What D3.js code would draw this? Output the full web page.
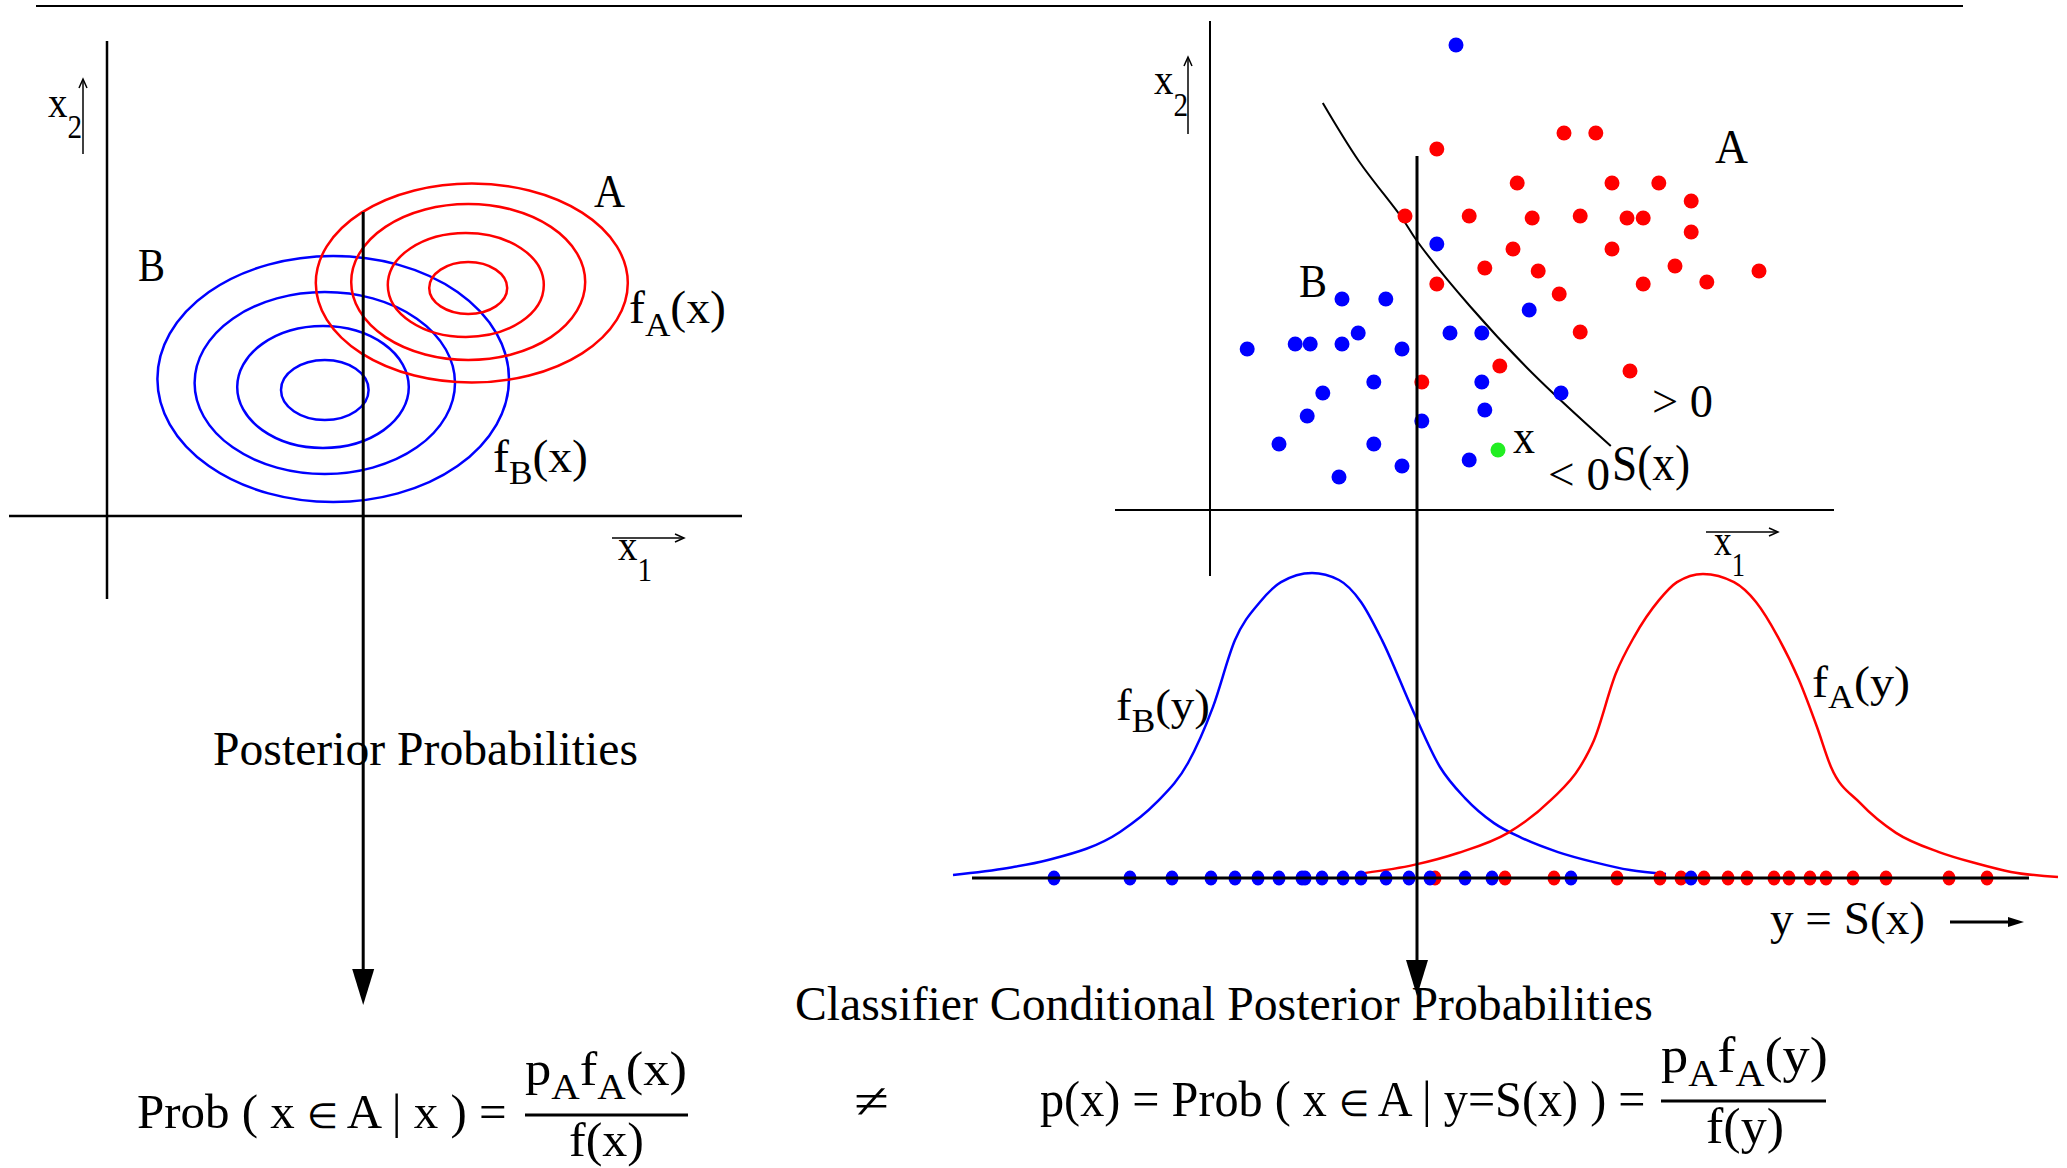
<!DOCTYPE html>
<html>
<head>
<meta charset="utf-8">
<script src="https://cdn.jsdelivr.net/npm/d3@7"></script>
<style>
body { margin: 0; background: #fff; }
svg { display: block; }
text { font-family: "Liberation Serif", "Times New Roman", serif; fill: #000; }
</style>
</head>
<body>
<svg id="fig" width="2067" height="1168"></svg>
<script>
// ---- data ----
// left panel: contour ellipses [cx, cy, rx, ry] in x1/x2 units
var contoursA = [[60.8, 46.6, 26, 19.9], [60.2, 46.8, 19.5, 15.6], [59.8, 46.2, 13, 10.4], [60.2, 45.6, 6.5, 5.2]];
var contoursB = [[37.7, 27.4, 29.3, 24.6], [36.3, 26.6, 21.7, 18.2], [36.0, 25.8, 14.3, 12.2], [36.3, 25.2, 7.3, 6.0]];
var projLeft = [42.7, 60.8];   // x1 of the projection line, top x2

// right panel: samples [x1, x2]
var samplesB = [[41.0, 93.0], [37.8, 53.2], [22.0, 42.2], [29.3, 42.2], [24.7, 35.4], [40.0, 35.4], [45.3, 35.4],
  [6.2, 32.2], [14.2, 33.2], [16.7, 33.2], [22.0, 33.2], [32.0, 32.2], [53.2, 40.0], [27.3, 25.6], [45.3, 25.6],
  [18.8, 23.4], [58.5, 23.4], [16.2, 18.8], [45.8, 20.0], [35.3, 17.8], [11.5, 13.2], [27.3, 13.2], [32.0, 8.8],
  [43.2, 10.0], [21.5, 6.6]];
var samplesA = [[37.8, 72.2], [59.0, 75.4], [64.3, 75.4], [51.2, 65.4], [67.0, 65.4], [74.8, 65.4], [80.2, 61.8],
  [32.5, 58.8], [43.2, 58.8], [53.7, 58.4], [61.7, 58.8], [69.5, 58.4], [72.2, 58.4], [80.2, 55.6], [50.5, 52.2],
  [67.0, 52.2], [45.8, 48.4], [54.7, 47.8], [77.5, 48.8], [91.5, 47.8], [37.8, 45.2], [58.2, 43.2], [72.2, 45.2],
  [82.8, 45.6], [61.7, 35.6], [48.3, 28.8], [70.0, 27.8], [35.3, 25.6]];
var sampleX = [48.0, 12.0];
var boundary = [[18.8, 81.4], [24.8, 69.8], [32.0, 58.4], [34.5, 53.8], [43.3, 40.8], [53.7, 27.4], [66.8, 12.8]];
var projRight = [34.5, 70.8];

// bottom: classifier output y = S(x) and densities
var sB = [-11.1, -10.0, -9.2, -7.76, -7.04, -6.4, -5.9, -5.46, -4.96, -4.54, -3.92, -3.38, -2.94, -2.52, -1.88,
  -1.36, -0.86, -0.28, 0.28, 1.0, 1.72, 2.44, 3.16];
var fB = [0.01, 0.033, 0.059, 0.151, 0.246, 0.377, 0.561, 0.78, 0.905, 0.97, 1.0, 0.977, 0.905, 0.78, 0.541,
  0.364, 0.262, 0.18, 0.131, 0.085, 0.052, 0.026, 0.013];
var sA = [-2.88, -1.88, -1.0, 0, 0.86, 1.44, 1.72, 2.16, 2.52, 3.02, 3.38, 3.9, 4.52, 4.96, 5.4, 5.82, 6.18,
  6.46, 7.04, 7.76, 8.62, 9.34, 10.06, 11.0];
var fA = [0.016, 0.043, 0.082, 0.148, 0.256, 0.364, 0.452, 0.672, 0.79, 0.911, 0.97, 0.997, 0.97, 0.905, 0.79,
  0.649, 0.495, 0.364, 0.246, 0.148, 0.085, 0.049, 0.02, 0.003];
var projB = [-9.08, -7.56, -6.72, -5.94, -5.46, -5.0, -4.58, -4.12, -4.06, -3.72, -3.3, -2.94, -2.44, -1.98,
  -1.56, -0.86, -0.32, 1.26, 3.66];
var projA = [-1.46, -0.06, 0.92, 2.18, 3.04, 3.46, 3.92, 4.4, 4.78, 5.32, 5.62, 6.04, 6.36, 6.9, 7.56, 8.82, 9.58];
var sRange = [-10.72, 10.42];

var RED = "#ff0000", BLUE = "#0000ff", GREEN = "#22ee22";

// ---- scales ----
var xL = d3.scaleLinear().domain([0, 100]).range([107, 707]);
var yL = d3.scaleLinear().domain([0, 100]).range([516, 16]);
var xR = d3.scaleLinear().domain([0, 100]).range([1210, 1810]);
var yR = d3.scaleLinear().domain([0, 100]).range([510, 10]);
var sS = d3.scaleLinear().domain([-11, 11]).range([958, 2058]);
var dS = d3.scaleLinear().domain([0, 1]).range([878, 573]);

var svg = d3.select("#fig");

function seg(x1, y1, x2, y2, w) {
  svg.append("line").attr("x1", x1).attr("y1", y1).attr("x2", x2).attr("y2", y2)
    .attr("stroke", "#000").attr("stroke-width", w);
}
function openHead(x, y, dir) {   // small chevron for axis arrows
  var p = dir === "up" ? [[x - 4, y + 9], [x, y], [x + 4, y + 9]] : [[x - 9, y - 4], [x, y], [x - 9, y + 4]];
  svg.append("path").attr("d", d3.line()(p)).attr("fill", "none").attr("stroke", "#000").attr("stroke-width", 1.5);
}
function solidHead(x, y, w, h, dir) {
  var p = dir === "down" ? [[x - w / 2, y - h], [x, y], [x + w / 2, y - h]] : [[x - h, y - w / 2], [x, y], [x - h, y + w / 2]];
  svg.append("path").attr("d", d3.line()(p) + "Z").attr("fill", "#000");
}

// top rule
seg(36, 6, 1963, 6, 2);

// ---- left panel ----
seg(107, 41, 107, 599, 2.5);
seg(9, 516, 742, 516, 2.5);
seg(83, 154, 83, 80, 1.5); openHead(83, 79, "up");
seg(612, 538, 683, 538, 1.5); openHead(684, 538, "right");

function ellipses(data, color) {
  svg.append("g").selectAll("ellipse").data(data).enter().append("ellipse")
    .attr("cx", function (d) { return xL(d[0]); })
    .attr("cy", function (d) { return yL(d[1]); })
    .attr("rx", function (d) { return xL(d[2]) - xL(0); })
    .attr("ry", function (d) { return yL(0) - yL(d[3]); })
    .attr("fill", "none").attr("stroke", color).attr("stroke-width", 2.5);
}
ellipses(contoursB, BLUE);
ellipses(contoursA, RED);

seg(xL(projLeft[0]), yL(projLeft[1]), xL(projLeft[0]), 975, 3);
solidHead(xL(projLeft[0]), 1005, 22, 36, "down");

// ---- right panel ----
seg(1210, 21, 1210, 576, 2);
seg(1115, 510, 1834, 510, 2);
seg(1188, 134, 1188, 58, 1.5); openHead(1188, 57, "up");
seg(1706, 532, 1777, 532, 1.5); openHead(1778, 532, "right");

svg.append("path").datum(boundary)
  .attr("d", d3.line().x(function (d) { return xR(d[0]); }).y(function (d) { return yR(d[1]); }).curve(d3.curveCatmullRom))
  .attr("fill", "none").attr("stroke", "#000").attr("stroke-width", 2);

function dots(data, color) {
  svg.append("g").selectAll("circle").data(data).enter().append("circle")
    .attr("cx", function (d) { return xR(d[0]); })
    .attr("cy", function (d) { return yR(d[1]); })
    .attr("r", 7.5).attr("fill", color);
}
dots(samplesA, RED);
dots(samplesB, BLUE);
dots([sampleX], GREEN);

// ---- bottom: densities of S(x) ----
function density(s, f, color) {
  svg.append("path").datum(f)
    .attr("d", d3.line().x(function (d, i) { return sS(s[i]); }).y(function (d) { return dS(d); }).curve(d3.curveMonotoneX))
    .attr("fill", "none").attr("stroke", color).attr("stroke-width", 2.5);
}
density(sB, fB, BLUE);
density(sA, fA, RED);

function proj(data, color) {
  svg.append("g").selectAll("ellipse").data(data).enter().append("ellipse")
    .attr("cx", function (d) { return sS(d); }).attr("cy", dS(0))
    .attr("rx", 6.5).attr("ry", 7.5).attr("fill", color);
}
proj(projA, RED);
proj(projB, BLUE);
seg(sS(sRange[0]), dS(0), sS(sRange[1]), dS(0), 3);

seg(xR(projRight[0]), yR(projRight[1]), xR(projRight[0]), 965, 3);
solidHead(xR(projRight[0]), 996, 22, 36, "down");

seg(1950, 922, 2010, 922, 3);
solidHead(2024, 922, 10, 16, "right");

// ---- text ----
// [x, baseline, size, width, parts, subscript drop]; "_" = subscript, "~" = smaller symbol
var labels = [
  [48, 117, 44, 34, ["x", "_2"], 21],
  [618, 560, 44, 34, ["x", "_1"], 21],
  [594, 207, 46, 31, ["A"]],
  [138, 281, 46, 27, ["B"]],
  [629, 323, 46, 97, ["f", "_A", "(x)"], 13],
  [493, 472, 46, 95, ["f", "_B", "(x)"], 12],
  [213, 765, 48, 425, ["Posterior Probabilities"]],
  [1154, 94, 44, 34, ["x", "_2"], 22],
  [1714, 555, 44, 31, ["x", "_1"], 21],
  [1715, 163, 48, 33, ["A"]],
  [1299, 297, 46, 28, ["B"]],
  [1513, 453, 48, 22, ["x"]],
  [1652, 417, 46, 61, ["> 0"]],
  [1548, 490, 46, 62, ["< 0"]],
  [1612, 480, 50, 78, ["S(x)"]],
  [1116, 720, 44, 94, ["f", "_B", "(y)"], 12],
  [1812, 697, 44, 98, ["f", "_A", "(y)"], 11],
  [1770, 934, 46, 155, ["y = S(x)"]],
  [795, 1020, 48, 858, ["Classifier Conditional Posterior Probabilities"]],
  [137, 1128, 48, 370, ["Prob ( x ", "~\u2208", " A | x ) ="]],
  [525, 1085, 48, 162, ["p", "_A", "f", "_A", "(x)"], 14],
  [569, 1156, 48, 75, ["f(x)"]],
  [854, 1118, 50, 35, ["\u2260"]],
  [1040, 1116, 50, 606, ["p(x) = Prob ( x ", "~\u2208", " A | y=S(x) ) ="]],
  [1661, 1072, 50, 167, ["p", "_A", "f", "_A", "(y)"], 14],
  [1706, 1143, 50, 78, ["f(y)"]]
];

labels.forEach(function (L) {
  var t = svg.append("text").attr("font-size", L[2]);
  var drop = L[5] || 0, down = false;
  L[4].forEach(function (p) {
    var ts = t.append("tspan");
    if (p.charAt(0) === "_") {
      ts.text(p.slice(1)).attr("font-size", Math.round(L[2] * 0.74)).attr("dy", down ? 0 : drop);
      down = true;
    } else if (p.charAt(0) === "~") {
      ts.text(p.slice(1)).attr("font-size", Math.round(L[2] * 0.72));
    } else {
      ts.text(p).attr("dy", down ? -drop : 0);
      down = false;
    }
  });
  var w = t.node().getComputedTextLength();
  t.attr("transform", "translate(" + L[0] + "," + L[1] + ") scale(" + (L[3] / w) + ",1)");
});

// fraction bars
seg(525, 1115, 688, 1115, 3);
seg(1661, 1101, 1826, 1101, 3);
</script>
</body>
</html>
